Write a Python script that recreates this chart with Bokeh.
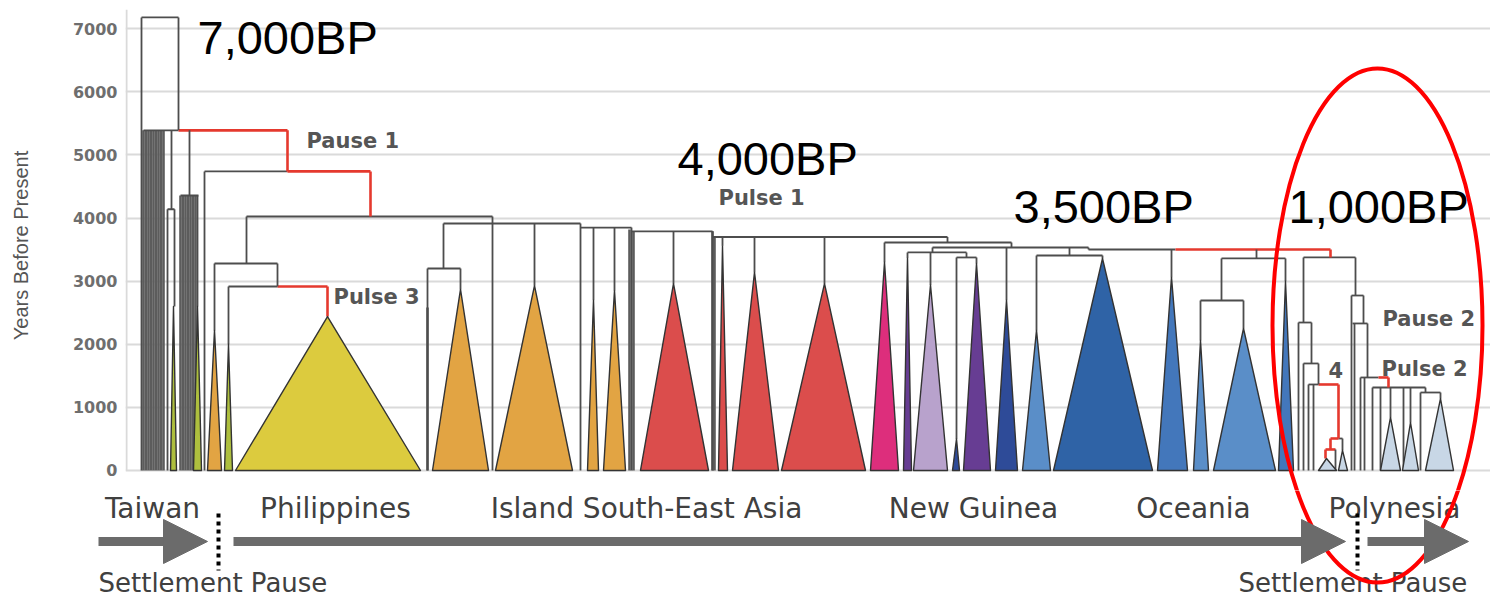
from bokeh.plotting import figure
from bokeh.models import Range1d, FixedTicker, Arrow, NormalHead, ColumnDataSource
from bokeh.layouts import column
from bokeh.embed import file_html
from bokeh.resources import INLINE
from bokeh.core.properties import value

# ---------------- data ----------------
year_ticks = [0, 1000, 2000, 3000, 4000, 5000, 6000, 7000]

# collapsed clades (triangles): tip span on the leaf axis, node position, node age (years BP)
clade_left  = [170, 193, 207, 224, 235, 432, 495, 587, 603, 640, 718, 732, 781, 870, 903, 913, 952, 963,
               995, 1022, 1053, 1157, 1193, 1213, 1278, 1318, 1338, 1380, 1402, 1425]
clade_right = [176, 201, 221, 232, 420, 488, 572, 598, 625, 708, 727, 778, 865, 898, 911, 947, 959, 990,
               1017, 1050, 1152, 1187, 1208, 1275, 1293, 1336, 1347, 1400, 1418, 1453]
clade_node  = [173, 197, 214, 228, 327, 460, 534, 593, 614, 673, 722, 754, 824, 884, 907, 930, 956, 976,
               1006, 1036, 1102, 1171, 1200, 1243, 1285, 1326, 1342, 1390, 1410, 1440]
clade_age   = [2600, 2600, 2220, 2000, 2440, 2870, 2930, 2700, 2850, 2960, 3560, 3140, 2960, 3300, 3370, 2940, 500, 3280,
               2700, 2220, 3360, 3060, 2060, 2250, 3000, 190, 320, 840, 760, 1140]
clade_group = ["taiwan", "taiwan", "orange", "taiwan", "philippines", "orange", "orange", "orange", "orange",
               "red", "red", "red", "red", "magenta", "purple", "lilac", "navy", "purple",
               "navy", "oc_light", "ng_blue", "oc_blue", "oc_light", "oc_light", "oc_blue",
               "polynesia", "polynesia", "polynesia", "polynesia", "polynesia"]

# horizontal tree branches: x from, x to, node age, pulse (red) flag
h_x0 = [141, 143, 178, 204, 287, 246, 214, 228, 277, 167, 180, 443, 427, 580, 631, 712, 884, 932, 907, 956,
        1036, 1088, 1175, 1221, 1200, 1303, 1298, 1303, 1308, 1318, 1330, 1338, 1325, 1351, 1352, 1360, 1378,
        1372, 1420]
h_x1 = [178, 178, 287, 287, 370, 492, 277, 277, 327, 174, 198, 580, 460, 631, 712, 947, 1011, 1088, 966, 976,
        1102, 1175, 1330, 1285, 1243, 1355, 1311, 1318, 1318, 1338, 1338, 1342, 1335, 1363, 1367, 1378, 1388,
        1425, 1440]
h_age = [7180, 5390, 5390, 4740, 4740, 4025, 3280, 2916, 2916, 4140, 4358, 3914, 3201, 3850, 3790, 3700, 3613,
         3534, 3455, 3376, 3407, 3502, 3502, 3360, 2694, 3376, 2345, 1696, 1363, 1363, 507, 507, 333, 2773, 2330,
         1474, 1474, 1315, 1236]
h_red = [0, 0, 1, 0, 1, 0, 0, 0, 1, 0, 0, 0, 0, 0, 0, 0, 0, 0, 0, 0,
         0, 0, 1, 0, 0, 0, 0, 0, 0, 1, 1, 0, 1, 0, 0, 0, 1, 0, 0]

# vertical tree branches: x, parent age, child age, pulse (red) flag
v_x   = [141, 178, 287, 370, 204, 246, 214, 277, 327, 228, 171, 167, 174, 189, 197, 492, 443, 427, 460, 534,
         580, 593, 614, 631, 673, 712, 722, 754, 824, 947, 884, 1011, 932, 907, 930, 966, 956, 976, 1006, 1069,
         1036, 1102, 1088, 1171, 1256, 1221, 1200, 1243, 1285, 1330, 1303, 1298, 1311, 1303, 1318, 1308, 1313,
         1338, 1330, 1325, 1335, 1342, 1355, 1351, 1363, 1354, 1367, 1360, 1364, 1388, 1372, 1380, 1390, 1403,
         1410, 1425, 1420, 1440]
v_top = [7180, 7180, 5390, 4740, 4740, 4025, 3280, 3280, 2916, 2916, 5390, 4140, 4140, 5390, 4358, 4025, 3914,
         3201, 3201, 3914, 3914, 3850, 3850, 3850, 3790, 3790, 3700, 3700, 3700, 3700, 3613, 3613, 3534, 3455,
         3455, 3455, 3376, 3376, 3534, 3534, 3407, 3407, 3534, 3502, 3502, 3360, 2694, 2694, 3360, 3502, 3376,
         2345, 2345, 1696, 1696, 1363, 1363, 1363, 507, 333, 333, 507, 3376, 2773, 2773, 2330, 2330, 1474, 1474,
         1474, 1315, 1315, 1315, 1315, 1315, 1315, 1236, 1236]
v_bot = [0, 5390, 4740, 4025, 0, 3280, 2220, 2916, 2440, 2000, 4140, 0, 2600, 4358, 2600, 0, 3201, 0, 2870,
         2930, 0, 2700, 2850, 0, 2960, 0, 3560, 3140, 2960, 3613, 3300, 3534, 3455, 3370, 2940, 3376, 500, 3280,
         2700, 3407, 2220, 3360, 3502, 3060, 3360, 2694, 2060, 2250, 3000, 3376, 2345, 0, 1696, 0, 1363, 0, 0,
         507, 333, 190, 0, 320, 2773, 0, 2330, 0, 1474, 0, 0, 1315, 0, 0, 840, 0, 760, 1236, 0, 1140]
v_red = [0, 0, 1, 1, 0, 0, 0, 0, 1, 0, 0, 0, 0, 0, 0, 0, 0, 0, 0, 0,
         0, 0, 0, 0, 0, 0, 0, 0, 0, 0, 0, 0, 0, 0, 0, 0, 0, 0, 0, 0,
         0, 0, 0, 0, 0, 0, 0, 0, 0, 1, 0, 0, 0, 0, 0, 0, 0, 1, 1, 1,
         0, 0, 0, 0, 0, 0, 0, 0, 0, 1, 0, 0, 0, 0, 0, 0, 0, 0]

# densely packed Taiwanese lineages (leaf x, age of origin)
dense_x   = [143, 145.5, 148, 150.5, 153, 155.5, 158, 160.5, 163, 180, 182.5, 185, 187.5, 190, 192.5, 195,
             427, 629, 633, 712, 714]
dense_top = [5390, 5390, 5390, 5390, 5390, 5390, 5390, 5390, 5390, 4358, 4358, 4358, 4358, 4358, 4358, 4358,
             2583, 3820, 3790, 3790, 3700]

# annotations
pulse_text  = ["Pause 1", "Pulse 1", "Pulse 3", "Pause 2", "Pulse 2", "4"]
pulse_x     = [306, 718, 333, 1382, 1381, 1328]
pulse_y     = [5214, 4311, 2742, 2393, 1616, 1585]
bp_text     = ["7,000BP", "4,000BP", "3,500BP", "1,000BP"]
bp_x        = [197, 677, 1013, 1288]
bp_y        = [6862, 4945, 4184, 4184]
region_text = ["Taiwan", "Philippines", "Island South-East Asia", "New Guinea", "Oceania", "Polynesia"]
region_x    = [152, 335, 646, 973, 1193, 1394]
pause_text  = ["Settlement Pause", "Settlement Pause"]
pause_x     = [98, 1238]

palette = {
    "taiwan": "#aebf3e", "philippines": "#dccb3e", "orange": "#e2a443", "red": "#db4d4c",
    "magenta": "#dd2e7c", "lilac": "#b8a2cc", "purple": "#673d93", "navy": "#2e4b98",
    "ng_blue": "#2f63a6", "oc_blue": "#4377bb", "oc_light": "#5a8ec8", "polynesia": "#c8d7e6",
}
BRANCH = "#4d4d4d"
PULSE = "#e5392e"

# ---------------- main tree figure ----------------
p = figure(width=1490, height=490, x_range=Range1d(125, 1490), y_range=Range1d(-317, 7448),
           output_backend="svg", toolbar_location=None, x_axis_type=None,
           min_border_left=125, min_border_right=0, min_border_top=0, min_border_bottom=0)
p.frame_align = False
p.outline_line_color = None
p.xgrid.visible = False
p.ygrid.ticker = FixedTicker(ticks=year_ticks)
p.ygrid.grid_line_color = "#dadada"
p.ygrid.grid_line_width = 2
ax = p.yaxis[0]
ax.ticker = FixedTicker(ticks=year_ticks)
ax.major_tick_line_color = None
ax.minor_tick_line_color = None
ax.major_tick_out = 0
ax.major_label_standoff = 8
ax.axis_line_color = None
ax.major_label_text_font = "DejaVu Sans"
ax.major_label_text_font_style = "bold"
ax.major_label_text_font_size = "16px"
ax.major_label_text_color = "#6e6e6e"
ax.axis_label = "Years Before Present"
ax.axis_label_text_font = "Liberation Sans"
ax.axis_label_text_font_style = "normal"
ax.axis_label_text_font_size = "20px"
ax.axis_label_text_color = "#555555"
ax.axis_label_standoff = 38

# left panel edge
p.segment(x0=[126], y0=[7300], x1=[126], y1=[0], line_color="#dadada", line_width=2)

# dense lineages
p.segment(x0=dense_x, y0=dense_top, x1=dense_x, y1=[0] * len(dense_x), line_color="#5c5c5c", line_width=2.6)

# branches
hs = ColumnDataSource(dict(x0=h_x0, x1=h_x1, y=h_age, c=[PULSE if r else BRANCH for r in h_red],
                           w=[2.6 if r else 1.8 for r in h_red]))
p.segment(x0="x0", y0="y", x1="x1", y1="y", line_color="c", line_width="w", source=hs)
vs = ColumnDataSource(dict(x=v_x, t=v_top, b=v_bot, c=[PULSE if r else BRANCH for r in v_red],
                           w=[2.6 if r else 1.8 for r in v_red]))
p.segment(x0="x", y0="t", x1="x", y1="b", line_color="c", line_width="w", source=vs)

# clades
cs = ColumnDataSource(dict(
    xs=[[l, n, r] for l, n, r in zip(clade_left, clade_node, clade_right)],
    ys=[[0, a, 0] for a in clade_age],
    c=[palette[g] for g in clade_group]))
p.patches(xs="xs", ys="ys", fill_color="c", line_color="#333333", line_width=1.4, line_join="round", source=cs)

p.text(x=pulse_x, y=pulse_y, text=pulse_text, text_font=value("DejaVu Sans"), text_font_style="bold",
       text_font_size="21px", text_color="#555555", text_baseline="middle", text_align="left")
p.text(x=bp_x, y=bp_y, text=bp_text, text_font=value("Liberation Sans"), text_font_size="47px",
       text_color="#000000", text_baseline="middle", text_align="left")

ELL = dict(x=[1377], y=[2298], width=[210], height=[8146])
p.ellipse(**ELL, fill_color=None, line_color="#ff0000", line_width=4)

# ---------------- bottom strip (regions & migration arrows) ----------------
p2 = figure(width=1490, height=109, x_range=Range1d(0, 1490), y_range=Range1d(-2044, -317),
            output_backend="svg", toolbar_location=None, x_axis_type=None, y_axis_type=None,
            min_border=0, min_border_left=0, min_border_right=0, min_border_top=0, min_border_bottom=0)
p2.frame_align = False
p2.outline_line_color = None
p2.grid.visible = False

p2.text(x=region_x, y=[-602] * len(region_x), text=region_text, text_font=value("DejaVu Sans"),
        text_font_size="28px", text_color="#404040", text_align="center", text_baseline="middle")
p2.text(x=pause_x, y=[-1790] * len(pause_x), text=pause_text,
        text_font=value("DejaVu Sans"), text_font_size="26px", text_color="#404040",
        text_align="left", text_baseline="middle")

ARW = "#6b6b6b"
for xs_, xe_ in [(98, 207), (233, 1345), (1367, 1468)]:
    p2.add_layout(Arrow(x_start=xs_, y_start=-1125, x_end=xe_, y_end=-1125, line_color=ARW, line_width=9,
                        end=NormalHead(size=44, fill_color=ARW, line_color=ARW)))
p2.segment(x0=[218, 1357], y0=[-681, -681], x1=[218, 1357], y1=[-1585, -1585], line_color="black",
           line_width=4, line_dash="4 4")
p2.ellipse(**ELL, fill_color=None, line_color="#ff0000", line_width=4)

layout = column(p, p2, spacing=0)
open("out.html", "w").write(file_html(layout, INLINE))
